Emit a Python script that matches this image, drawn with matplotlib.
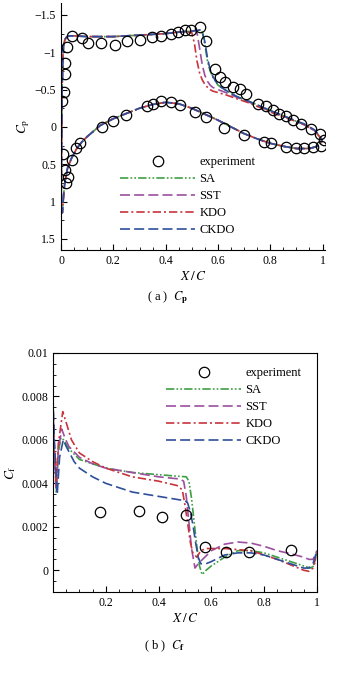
import numpy as np
import matplotlib
matplotlib.use('Agg')
import matplotlib.pyplot as plt
from matplotlib.lines import Line2D
from matplotlib.ticker import MultipleLocator

plt.rcParams['font.family'] = ['Liberation Serif', 'DejaVu Serif']
plt.rcParams['mathtext.fontset'] = 'stix'

# ---- Cp data ----
x_up = [0.0, 0.002, 0.004, 0.007, 0.01, 0.015, 0.02, 0.03, 0.05, 0.1, 0.2, 0.3, 0.4,
        0.45, 0.48, 0.5, 0.51, 0.52, 0.53, 0.54, 0.55, 0.56, 0.57, 0.58, 0.6, 0.63,
        0.67, 0.72, 0.8, 0.87, 0.93, 0.97, 1.0]
cp_up_sa = [1.1, 0.3, -0.5, -0.95, -1.1, -1.17, -1.2, -1.22, -1.22, -1.21, -1.21, -1.23, -1.25,
            -1.27, -1.28, -1.28, -1.29, -1.29, -1.3, -1.27, -1.1, -0.88, -0.75, -0.67, -0.56, -0.49,
            -0.41, -0.34, -0.22, -0.12, -0.03, 0.05, 0.18]
cp_up_sst = [1.1, 0.3, -0.5, -0.95, -1.1, -1.17, -1.2, -1.22, -1.22, -1.21, -1.21, -1.23, -1.25,
             -1.27, -1.28, -1.28, -1.29, -1.26, -1.05, -0.83, -0.69, -0.61, -0.56, -0.53, -0.5, -0.46,
             -0.4, -0.33, -0.21, -0.12, -0.03, 0.05, 0.18]
cp_up_kdo = [1.1, 0.3, -0.5, -0.95, -1.1, -1.17, -1.2, -1.22, -1.22, -1.21, -1.21, -1.23, -1.25,
             -1.27, -1.28, -1.26, -1.12, -0.88, -0.72, -0.63, -0.57, -0.53, -0.5, -0.48, -0.46, -0.43,
             -0.38, -0.32, -0.2, -0.11, -0.03, 0.05, 0.18]
cp_up_ckdo = [1.1, 0.3, -0.5, -0.95, -1.1, -1.17, -1.2, -1.22, -1.22, -1.21, -1.21, -1.23, -1.25,
              -1.27, -1.28, -1.28, -1.29, -1.29, -1.3, -1.28, -1.14, -0.92, -0.77, -0.68, -0.56, -0.49,
              -0.41, -0.34, -0.22, -0.12, -0.04, 0.04, 0.18]

x_lo = [0.0, 0.005, 0.01, 0.015, 0.025, 0.04, 0.06, 0.08, 0.1, 0.15, 0.2, 0.25, 0.3, 0.35,
        0.4, 0.45, 0.5, 0.55, 0.6, 0.65, 0.7, 0.75, 0.8, 0.85, 0.9, 0.95, 0.98, 1.0]
cp_lo = [1.1, 1.15, 0.9, 0.73, 0.55, 0.42, 0.29, 0.2, 0.13, -0.02, -0.11, -0.18, -0.25, -0.3,
         -0.33, -0.31, -0.25, -0.17, -0.09, 0.0, 0.09, 0.16, 0.22, 0.26, 0.29, 0.29, 0.26, 0.19]

x_exp_cp = [0.003, 0.013, 0.015, 0.015, 0.022, 0.041, 0.079, 0.104, 0.152, 0.206, 0.254, 0.301,
            0.349, 0.381, 0.422, 0.447, 0.473, 0.498, 0.53, 0.555, 0.587, 0.606, 0.628, 0.657,
            0.685, 0.708, 0.752, 0.784, 0.809, 0.835, 0.86, 0.886, 0.917, 0.955, 0.99, 1.006,
            0.009, 0.015, 0.025, 0.019, 0.041, 0.056, 0.072, 0.155, 0.2, 0.25, 0.33, 0.352,
            0.384, 0.422, 0.454, 0.511, 0.555, 0.625, 0.701, 0.778, 0.803, 0.86, 0.898, 0.93,
            0.962, 0.994]
cp_exp = [-0.342, -0.467, -0.711, -0.853, -1.067, -1.213, -1.19, -1.124, -1.124, -1.098, -1.147, -1.164,
          -1.2, -1.222, -1.244, -1.267, -1.3, -1.3, -1.333, -1.156, -0.778, -0.667, -0.6, -0.533,
          -0.503, -0.445, -0.311, -0.28, -0.223, -0.169, -0.143, -0.089, -0.045, 0.022, 0.089, 0.177,
          0.369, 0.578, 0.667, 0.756, 0.444, 0.289, 0.222, 0.0, -0.076, -0.164, -0.28, -0.311,
          -0.342, -0.333, -0.289, -0.2, -0.133, 0.013, 0.111, 0.2, 0.222, 0.267, 0.289, 0.289,
          0.267, 0.253]

# ---- Cf data ----
x_cf_sa = [0.0, 0.005, 0.012, 0.02, 0.03, 0.04, 0.06, 0.1, 0.15, 0.2, 0.3, 0.4, 0.45, 0.505,
           0.515, 0.525, 0.535, 0.545, 0.555, 0.565, 0.58, 0.6, 0.65, 0.7, 0.75, 0.8, 0.85,
           0.9, 0.95, 0.975, 0.99, 1.0]
cf_sa = [0.0075, 0.0055, 0.0036, 0.0054, 0.0061, 0.006, 0.0056, 0.0051, 0.0049, 0.0047, 0.0045,
         0.0044, 0.00435, 0.0043, 0.0041, 0.0033, 0.0022, 0.0011, 0.0002, -0.0002, 0.0, 0.0002,
         0.0006, 0.0009, 0.0009, 0.0008, 0.0006, 0.0004, 0.0002, 0.0001, 0.0002, 0.0009]

x_cf_sst = [0.0, 0.005, 0.012, 0.02, 0.033, 0.045, 0.06, 0.1, 0.15, 0.2, 0.3, 0.4, 0.48, 0.495,
            0.505, 0.515, 0.525, 0.538, 0.55, 0.6, 0.65, 0.7, 0.75, 0.8, 0.85, 0.9, 0.95, 0.97,
            0.985, 1.0]
cf_sst = [0.0075, 0.0055, 0.0037, 0.0055, 0.0065, 0.0061, 0.0057, 0.0052, 0.0049, 0.0047, 0.0045,
          0.0043, 0.0042, 0.0041, 0.0034, 0.0022, 0.001, 0.0001, 0.0003, 0.0009, 0.0012, 0.0013,
          0.00125, 0.0011, 0.0009, 0.00076, 0.0006, 0.0005, 0.0005, 0.0009]

x_cf_kdo = [0.0, 0.005, 0.012, 0.02, 0.037, 0.05, 0.07, 0.1, 0.15, 0.2, 0.3, 0.4, 0.47, 0.49,
            0.5, 0.51, 0.52, 0.53, 0.545, 0.56, 0.58, 0.65, 0.75, 0.85, 0.95, 0.97, 0.985, 1.0]
cf_kdo = [0.0075, 0.0058, 0.0039, 0.0058, 0.0073, 0.0068, 0.006, 0.0054, 0.005, 0.0047, 0.0043,
          0.0041, 0.0039, 0.0037, 0.003, 0.0022, 0.0013, 0.0008, 0.0006, 0.0009, 0.001, 0.001,
          0.0009, 0.0005, 0.0, -0.00005, 0.0001, 0.0008]

x_cf_ckdo = [0.0, 0.005, 0.016, 0.025, 0.039, 0.05, 0.08, 0.1, 0.15, 0.2, 0.3, 0.4, 0.45, 0.5,
             0.51, 0.52, 0.53, 0.54, 0.55, 0.56, 0.58, 0.6, 0.65, 0.7, 0.75, 0.8, 0.85, 0.9,
             0.95, 0.97, 0.985, 1.0]
cf_ckdo = [0.008, 0.006, 0.0035, 0.0052, 0.006, 0.0057, 0.005, 0.0047, 0.0043, 0.004, 0.0036,
           0.0034, 0.0033, 0.0032, 0.0031, 0.0027, 0.0021, 0.0013, 0.0006, 0.0003, 0.0003, 0.0004,
           0.0007, 0.0008, 0.0008, 0.0007, 0.0005, 0.0003, 0.0001, 0.0001, 0.0003, 0.0009]

x_exp_cf = [0.179, 0.327, 0.412, 0.504, 0.576, 0.657, 0.743, 0.9]
cf_exp = [0.00266, 0.00271, 0.00243, 0.00255, 0.00107, 0.00084, 0.00084, 0.00092]

labels = ['SA', 'SST', 'KDO', 'CKDO']
colors = ['#3e9e45', '#9b4f9e', '#c8343c', '#2f4f9a']
styles = [(0, (5, 1.3, 1, 1.3, 1, 1.3)), (0, (6, 2.5)), (0, (5, 1.8, 1.2, 1.8)), (0, (6, 2.5))]
lw = 1.2
fs = 8.5
ms = 7.5

fig = plt.figure(figsize=(3.43, 6.73), dpi=100)

# ---------------- (a) Cp ----------------
ax1 = fig.add_axes([0.178, 0.6285, 0.77, 0.367])
cp_up = [cp_up_sa, cp_up_sst, cp_up_kdo, cp_up_ckdo]
for i in range(4):
    ax1.plot(x_up, cp_up[i], color=colors[i], linestyle=styles[i], lw=lw)
    ax1.plot(x_lo, cp_lo, color=colors[i], linestyle=styles[i], lw=lw)
ax1.plot(x_exp_cp, cp_exp, 'o', ms=ms, mfc='none', mec='black', mew=0.9)
ax1.set_xlim(0, 1.01)
ax1.set_ylim(1.65, -1.66)
ax1.spines['top'].set_visible(False)
ax1.spines['right'].set_visible(False)
ax1.set_xticks([0, 0.2, 0.4, 0.6, 0.8, 1])
ax1.set_xticklabels(['0', '0.2', '0.4', '0.6', '0.8', '1'])
ax1.set_yticks([-1.5, -1, -0.5, 0, 0.5, 1, 1.5])
ax1.set_yticklabels(['\u22121.5', '\u22121', '\u22120.5', '0', '0.5', '1', '1.5'])
ax1.xaxis.set_minor_locator(MultipleLocator(0.05))
ax1.yaxis.set_minor_locator(MultipleLocator(0.25))
ax1.tick_params(direction='in', labelsize=fs, length=4)
ax1.tick_params(which='minor', direction='in', length=2)
ax1.set_xlabel(r'$X\,/\,C$', fontsize=fs + 1, labelpad=2)
ax1.set_ylabel(r'$C_{\rm p}$', fontsize=fs + 1, labelpad=2)

handles = [Line2D([], [], ls='none', marker='o', ms=ms, mfc='none', mec='black', mew=0.9)]
handles += [Line2D([], [], color=colors[i], linestyle=styles[i], lw=lw) for i in range(4)]
ax1.legend(handles, ['experiment'] + labels, loc='upper left', bbox_to_anchor=(0.225, 0.38),
           frameon=False, fontsize=9, handlelength=6.0, handletextpad=0.3,
           labelspacing=0.4, borderaxespad=0, borderpad=0)

# ---------------- (b) Cf ----------------
ax2 = fig.add_axes([0.1545, 0.1204, 0.7695, 0.3551])
x_cf = [x_cf_sa, x_cf_sst, x_cf_kdo, x_cf_ckdo]
cf = [cf_sa, cf_sst, cf_kdo, cf_ckdo]
for i in range(4):
    ax2.plot(x_cf[i], cf[i], color=colors[i], linestyle=styles[i], lw=lw)
ax2.plot(x_exp_cf, cf_exp, 'o', ms=ms, mfc='none', mec='black', mew=0.9)
ax2.set_xlim(0, 1)
ax2.set_ylim(-0.001, 0.01)
ax2.set_xticks([0.2, 0.4, 0.6, 0.8, 1])
ax2.set_xticklabels(['0.2', '0.4', '0.6', '0.8', '1'])
ax2.set_yticks([0, 0.002, 0.004, 0.006, 0.008, 0.01])
ax2.set_yticklabels(['0', '0.002', '0.004', '0.006', '0.008', '0.01'])
ax2.xaxis.set_minor_locator(MultipleLocator(0.05))
ax2.yaxis.set_minor_locator(MultipleLocator(0.0005))
ax2.tick_params(direction='in', labelsize=fs, length=4)
ax2.tick_params(which='minor', direction='in', length=2)
ax2.set_xlabel(r'$X\,/\,C$', fontsize=fs + 1, labelpad=2)
ax2.set_ylabel(r'$C_{\rm f}$', fontsize=fs + 1, labelpad=2)
ax2.legend(handles, ['experiment'] + labels, loc='upper left', bbox_to_anchor=(0.43, 0.94),
           frameon=False, fontsize=9, handlelength=6.0, handletextpad=0.3,
           labelspacing=0.4, borderaxespad=0, borderpad=0)

fig.text(0.49, 0.558, r'( a )  $C_{\bf p}$', ha='center', va='center', fontsize=9)
fig.text(0.48, 0.04, r'( b )  $C_{\bf f}$', ha='center', va='center', fontsize=9)

fig.savefig('out.png', dpi=100)
